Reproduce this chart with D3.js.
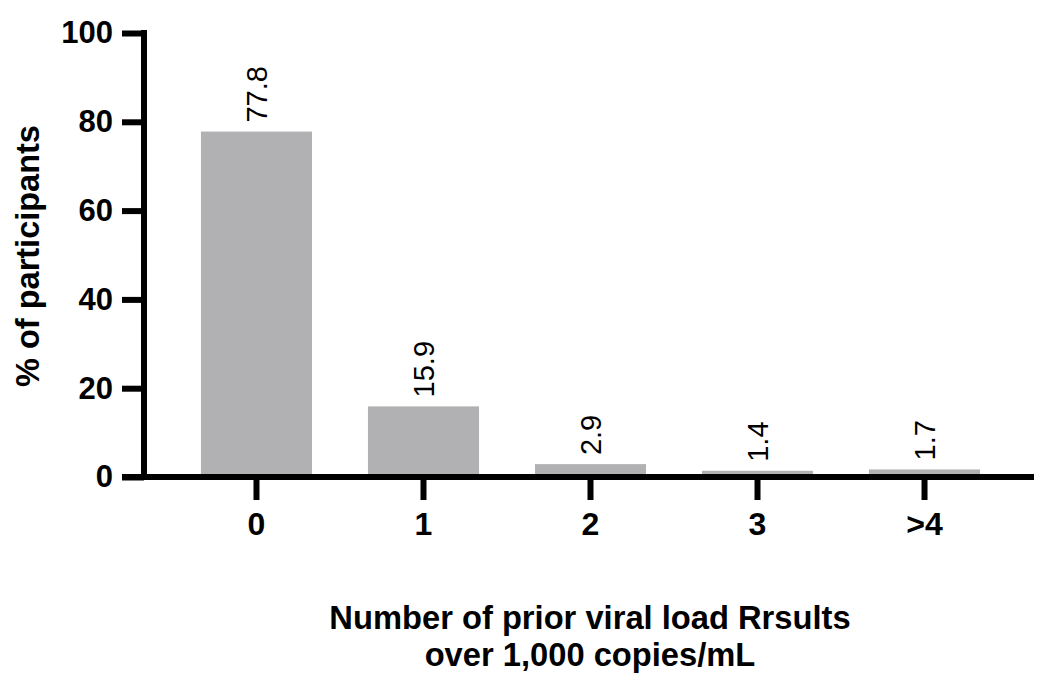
<!DOCTYPE html>
<html>
<head>
<meta charset="utf-8">
<script src="https://cdn.jsdelivr.net/npm/d3@7"></script>
<style>
  html, body { margin: 0; padding: 0; background: #fff; }
  text { font-family: "Liberation Sans", Arial, Helvetica, sans-serif; }
</style>
</head>
<body>
<svg id="chart" width="1050" height="681"></svg>
<script>
const categories = ["0", "1", "2", "3", ">4"];
const values = [77.8, 15.9, 2.9, 1.4, 1.7];
const valueLabels = ["77.8", "15.9", "2.9", "1.4", "1.7"];
const yTicks = [0, 20, 40, 60, 80, 100];
const yTitle = "% of participants";
const xTitleLines = ["Number of prior viral load Rrsults", "over 1,000 copies/mL"];

const svg = d3.select("#chart");
const x0 = 144, x1 = 1037, yTop = 33, yBottom = 477;

const x = d3.scaleBand().domain(categories).range([x0, x1])
  .paddingInner(0.335).paddingOuter(0.341).align(0.5);
const y = d3.scaleLinear().domain([0, 100]).range([yBottom, yTop]);

// bars
svg.append("g").selectAll("rect").data(values).join("rect")
  .attr("x", (d, i) => x(categories[i]))
  .attr("width", x.bandwidth())
  .attr("y", d => y(d))
  .attr("height", d => y(0) - y(d))
  .attr("fill", "#b1b1b3");

// value labels
svg.append("g").selectAll("text").data(values).join("text")
  .attr("transform", (d, i) => `translate(${x(categories[i]) + x.bandwidth() / 2 + 10.5},${y(d) - 9}) rotate(-90)`)
  .attr("text-anchor", "start")
  .attr("font-size", 29)
  .attr("fill", "#000")
  .text((d, i) => valueLabels[i]);

// y axis
const yAxis = d3.axisLeft(y).tickValues(yTicks).tickSize(22).tickPadding(9).tickFormat(d3.format("d"));
const gy = svg.append("g").attr("transform", `translate(${x0},0)`).call(yAxis);
gy.select(".domain").attr("d", `M0,${yTop - 3}V${yBottom + 3}`).attr("stroke", "#000").attr("stroke-width", 6);
gy.selectAll(".tick line").attr("stroke", "#000").attr("stroke-width", 6);
gy.selectAll(".tick text").attr("font-size", 31).attr("font-weight", "bold").attr("fill", "#000")
  .attr("font-family", "'Liberation Sans', Arial, sans-serif");

// x axis
const xAxis = d3.axisBottom(x).tickSize(23).tickPadding(12);
const gx = svg.append("g").attr("transform", `translate(0,${yBottom})`).call(xAxis);
gx.select(".domain").attr("d", `M122,0H1034`).attr("stroke", "#000").attr("stroke-width", 6);
gx.selectAll(".tick line").attr("stroke", "#000").attr("stroke-width", 6);
gx.selectAll(".tick text").attr("font-size", 32).attr("font-weight", "bold").attr("fill", "#000")
  .attr("font-family", "'Liberation Sans', Arial, sans-serif");

// y title
svg.append("text")
  .attr("transform", `translate(39,256) rotate(-90)`)
  .attr("text-anchor", "middle")
  .attr("font-size", 32.5).attr("font-weight", "bold")
  .text(yTitle);

// x title
svg.append("g").selectAll("text").data(xTitleLines).join("text")
  .attr("x", 590)
  .attr("y", (d, i) => 629 + i * 37)
  .attr("text-anchor", "middle")
  .attr("font-size", 32.7).attr("font-weight", "bold")
  .text(d => d);
</script>
</body>
</html>
